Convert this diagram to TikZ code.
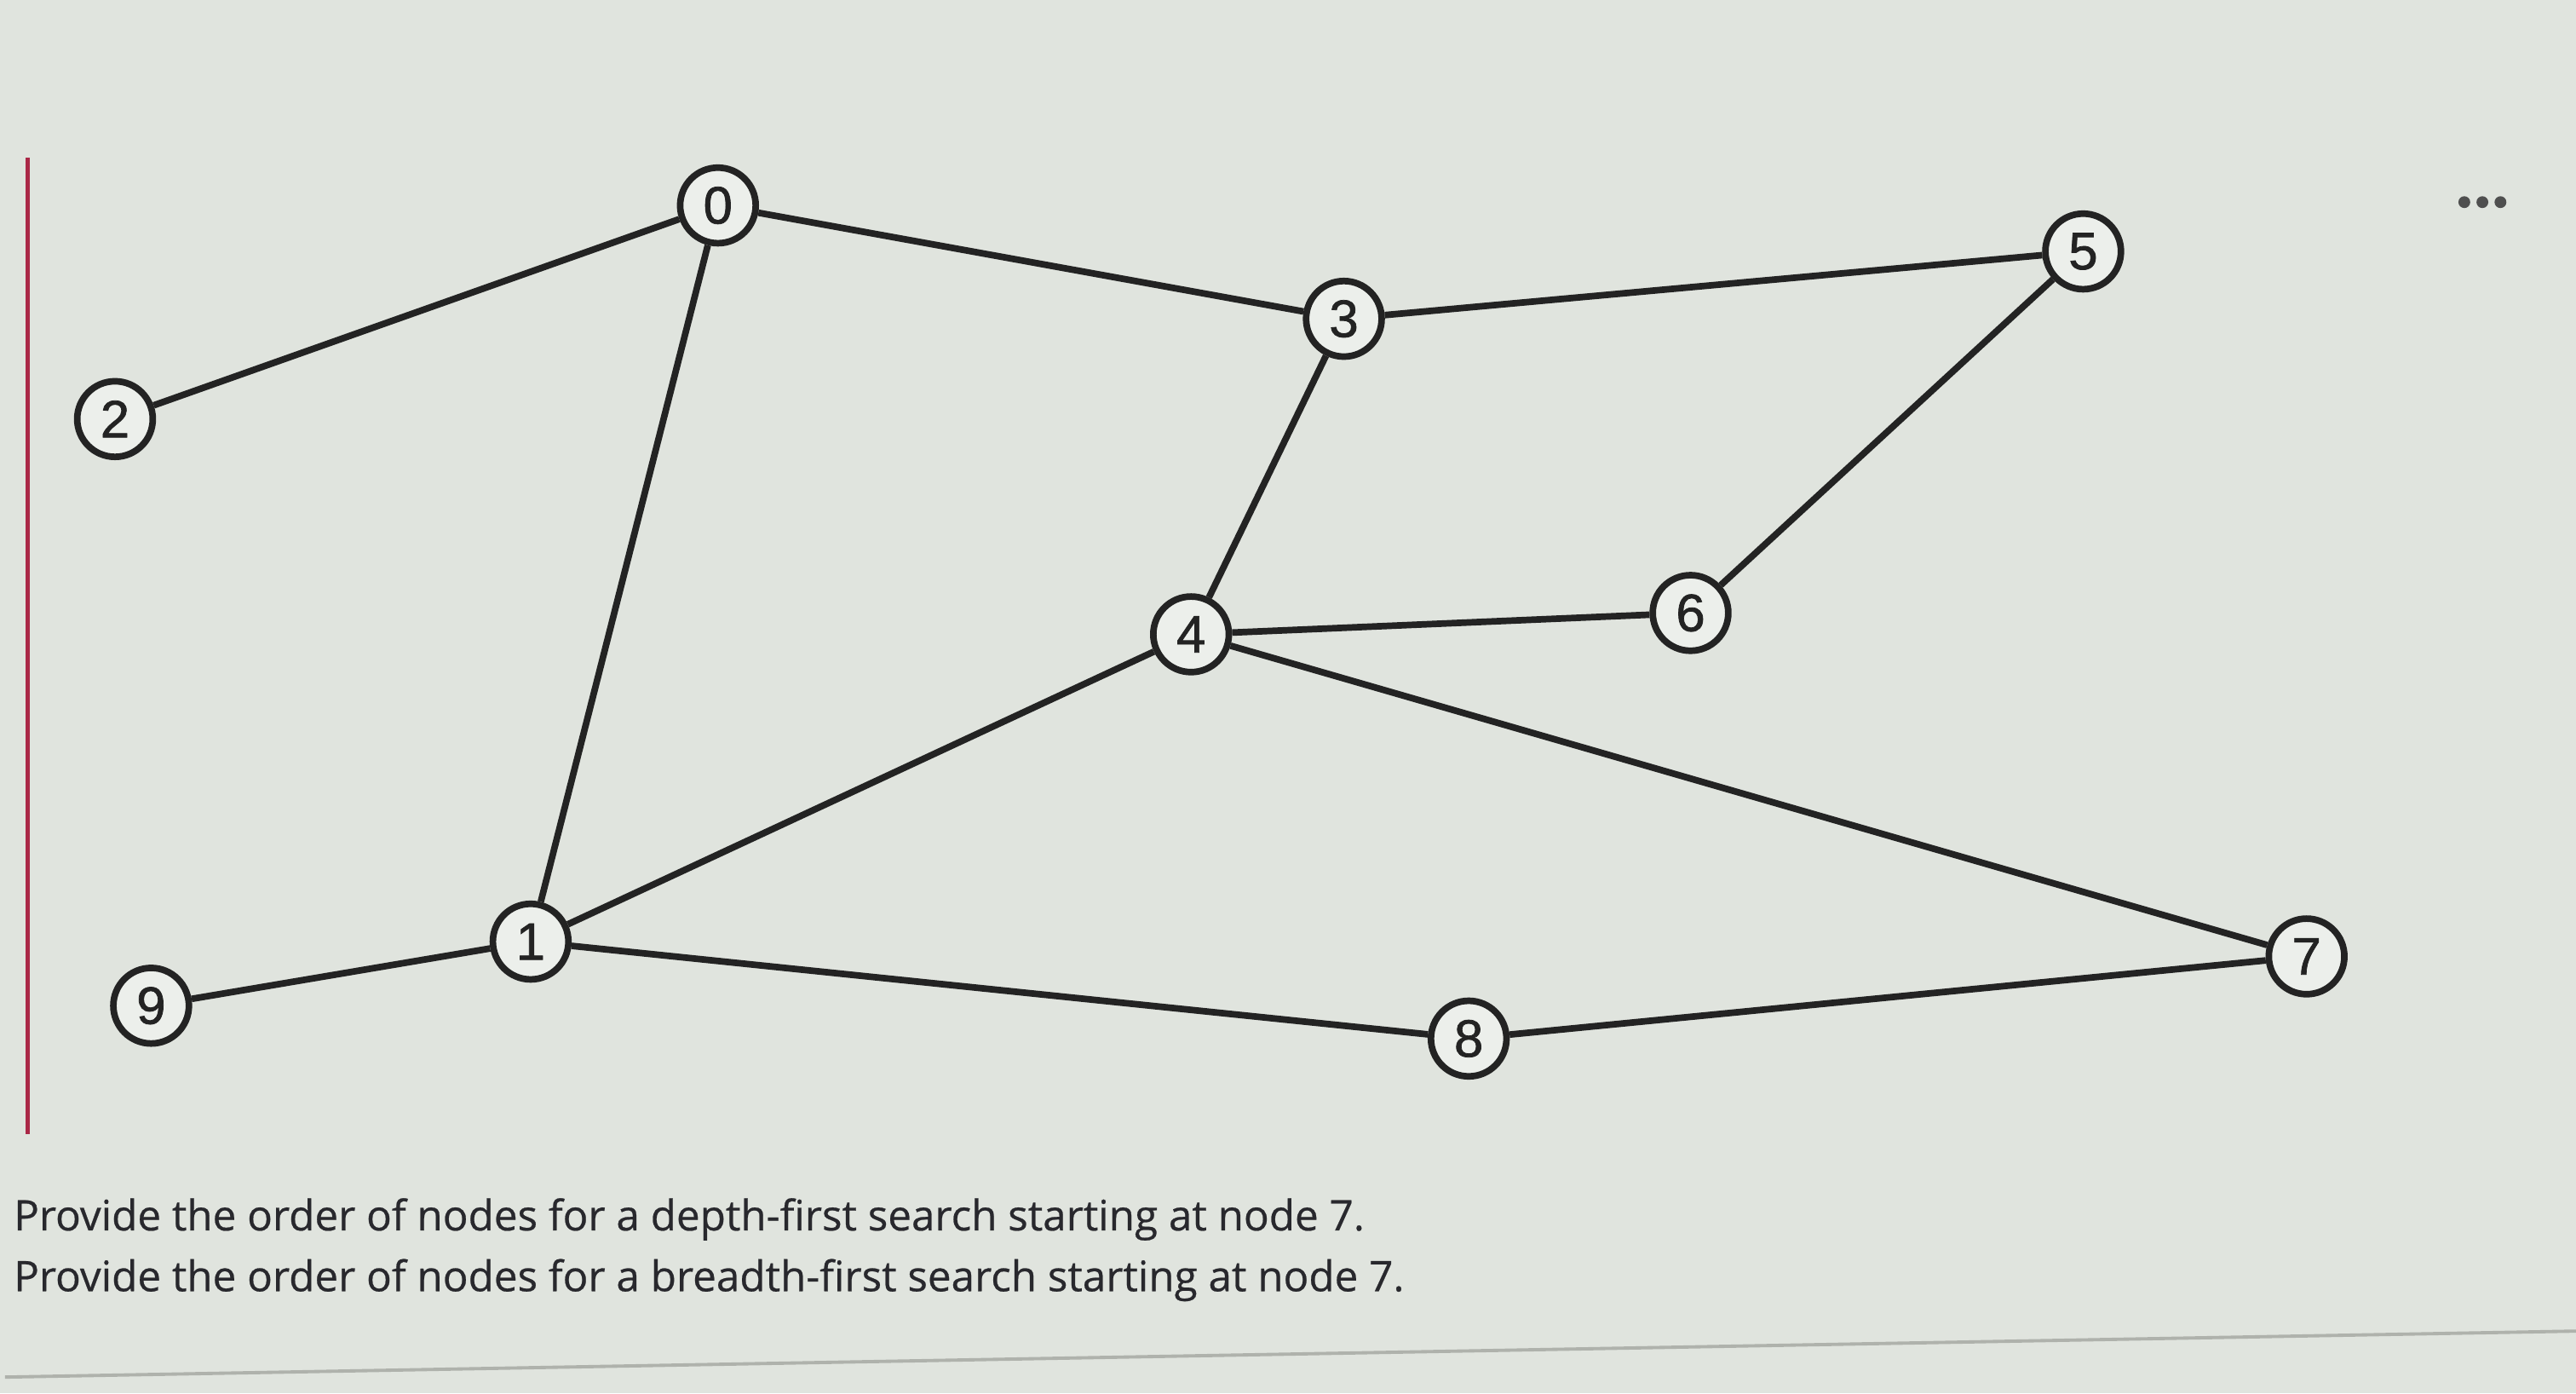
\documentclass[tikz,border=0pt]{standalone}
\usepackage{fontspec}
\setmainfont[FakeBold=0.5]{Open Sans}
\newfontfamily\digitfont[FakeBold=1.2]{Liberation Sans}
\definecolor{bgc}{RGB}{224,228,222}
\definecolor{ink}{RGB}{35,35,35}
\definecolor{txt}{RGB}{40,40,45}
\definecolor{redline}{RGB}{170,40,70}
\definecolor{rule}{RGB}{175,178,172}
\begin{document}
\begin{tikzpicture}[x=0.5pt,y=-0.5pt,
  vertex/.style={circle,draw=ink,line width=2pt,fill=bgc!60!white,minimum size=23pt,inner sep=0pt,
    font=\digitfont\fontsize{16}{16}\selectfont,text=ink},
  edge/.style={draw=ink,line width=2pt},
  question/.style={anchor=west,font=\fontsize{12.8}{15}\selectfont,text=txt,inner sep=0pt}]
\fill[bgc] (0,0) rectangle (1568,848);
\useasboundingbox (0,0) rectangle (1568,848);
% left red bar
\coordinate (ra) at (17,96);
\coordinate (rb) at (17,690);
\draw[redline,line width=1.4pt] (ra) -- (rb);
% vertices
\node[vertex] (n0) at (437,125) {0};
\node[vertex] (n2) at (70,255) {2};
\node[vertex] (n3) at (818,194) {3};
\node[vertex] (n5) at (1268,153) {5};
\node[vertex] (n4) at (725,386) {4};
\node[vertex] (n6) at (1029,373) {6};
\node[vertex] (n1) at (323,573) {1};
\node[vertex] (n9) at (92,612) {9};
\node[vertex] (n8) at (894,632) {8};
\node[vertex] (n7) at (1404,582) {7};
% edges
\draw[edge] (n2) -- (n0);
\draw[edge] (n0) -- (n3);
\draw[edge] (n0) -- (n1);
\draw[edge] (n3) -- (n5);
\draw[edge] (n3) -- (n4);
\draw[edge] (n5) -- (n6);
\draw[edge] (n4) -- (n6);
\draw[edge] (n4) -- (n1);
\draw[edge] (n4) -- (n7);
\draw[edge] (n1) -- (n9);
\draw[edge] (n1) -- (n8);
\draw[edge] (n8) -- (n7);
% more dots
\node[circle,fill=ink!80,minimum size=3.6pt,inner sep=0pt] (d1) at (1500,123) {};
\node[circle,fill=ink!80,minimum size=3.6pt,inner sep=0pt] (d2) at (1511,123) {};
\node[circle,fill=ink!80,minimum size=3.6pt,inner sep=0pt] (d3) at (1522,123) {};
% questions
\node[question] (q1) at (8,742) {Provide the order of nodes for a depth-first search starting at node 7.};
\node[question] (q2) at (8,779) {Provide the order of nodes for a breadth-first search starting at node 7.};
% bottom rule
\coordinate (la) at (3,838);
\coordinate (lb) at (1568,810);
\draw[rule,line width=1pt] (la) -- (lb);
\end{tikzpicture}
\end{document}
